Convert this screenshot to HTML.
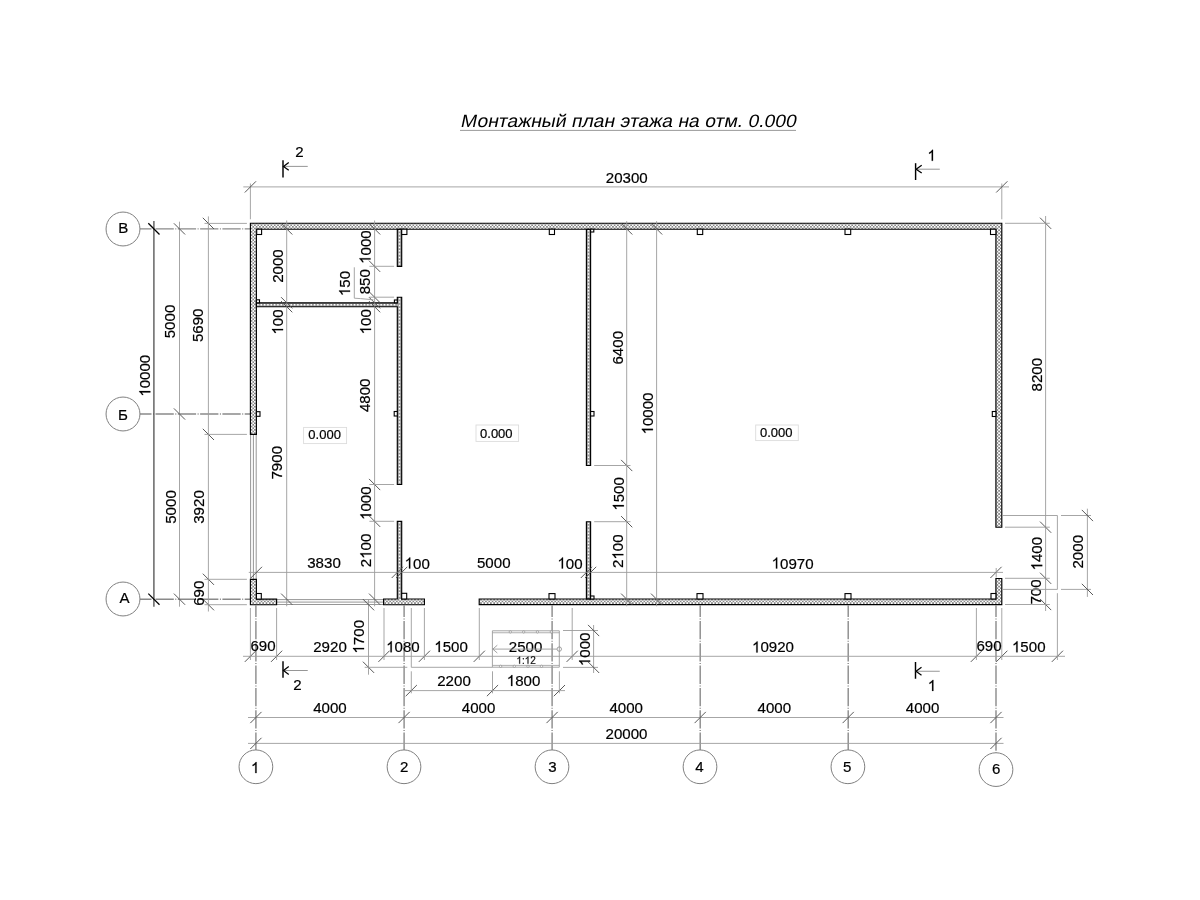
<!DOCTYPE html><html><head><meta charset="utf-8"><style>html,body{margin:0;padding:0;background:#fff;overflow:hidden;width:1200px;height:900px;}svg{display:block;will-change:transform}</style></head><body>
<svg width="1200" height="900" viewBox="0 0 1200 900" font-family='"Liberation Sans", sans-serif'>
<defs><pattern id="hatch" patternUnits="userSpaceOnUse" width="3.3" height="3.3"><rect width="3.3" height="3.3" fill="#fff"/><rect width="1.65" height="1.65" fill="#888"/><rect x="1.65" y="1.65" width="1.65" height="1.65" fill="#888"/></pattern></defs>
<rect width="1200" height="900" fill="#fff"/>
<g transform="translate(460.05,126.75) skewX(-12) scale(1.075,1)"><text font-size="18" fill="#000">Монтажный план этажа на отм. 0.000</text></g>
<line x1="460.00" y1="130.40" x2="796.00" y2="130.40" stroke="#9a9a9a" stroke-width="1.0" />
<line x1="255.90" y1="605.50" x2="255.90" y2="750.00" stroke="#8a8a8a" stroke-width="1.4" stroke-dasharray="18.3 1.5 1 1.5" stroke-dashoffset="6.8"/>
<line x1="404.10" y1="605.50" x2="404.10" y2="750.00" stroke="#8a8a8a" stroke-width="1.4" stroke-dasharray="18.3 1.5 1 1.5" stroke-dashoffset="6.8"/>
<line x1="552.10" y1="605.50" x2="552.10" y2="750.00" stroke="#8a8a8a" stroke-width="1.4" stroke-dasharray="18.3 1.5 1 1.5" stroke-dashoffset="6.8"/>
<line x1="700.20" y1="605.50" x2="700.20" y2="750.00" stroke="#8a8a8a" stroke-width="1.4" stroke-dasharray="18.3 1.5 1 1.5" stroke-dashoffset="6.8"/>
<line x1="848.20" y1="605.50" x2="848.20" y2="750.00" stroke="#8a8a8a" stroke-width="1.4" stroke-dasharray="18.3 1.5 1 1.5" stroke-dashoffset="6.8"/>
<line x1="996.00" y1="605.50" x2="996.00" y2="752.70" stroke="#8a8a8a" stroke-width="1.4" stroke-dasharray="18.3 1.5 1 1.5" stroke-dashoffset="6.8"/>
<line x1="140.00" y1="228.90" x2="250.40" y2="228.90" stroke="#8a8a8a" stroke-width="1.4" stroke-dasharray="18.3 1.5 1 1.5" stroke-dashoffset="6.8"/>
<line x1="140.00" y1="414.00" x2="256.40" y2="414.00" stroke="#8a8a8a" stroke-width="1.4" stroke-dasharray="18.3 1.5 1 1.5" stroke-dashoffset="6.8"/>
<line x1="140.00" y1="599.20" x2="250.40" y2="599.20" stroke="#8a8a8a" stroke-width="1.4" stroke-dasharray="18.3 1.5 1 1.5" stroke-dashoffset="6.8"/>
<circle cx="255.9" cy="766.8" r="16.85" fill="none" stroke="#808080" stroke-width="1"/>
<g transform="translate(255.15,773.10) scale(0.98,1)"><text font-size="15.4" text-anchor="middle" fill="#000" stroke="#000" stroke-width="0.2" > </text><path d="M763 0H583V1147Q518 1085 412.5 1023T223 930V1104Q373 1175 485.5 1276T645 1472H763V0Z" transform="translate(-4.282,0) scale(0.007520,-0.007520)" fill="#000" stroke="#000" stroke-width="26.6"/></g>
<circle cx="404.0" cy="766.8" r="16.85" fill="none" stroke="#808080" stroke-width="1"/>
<g transform="translate(404.25,771.85) scale(0.98,1)"><text font-size="15.4" text-anchor="middle" fill="#000" stroke="#000" stroke-width="0.2" >2</text></g>
<circle cx="552.0" cy="766.8" r="16.85" fill="none" stroke="#808080" stroke-width="1"/>
<g transform="translate(552.50,772.35) scale(0.98,1)"><text font-size="15.4" text-anchor="middle" fill="#000" stroke="#000" stroke-width="0.2" >3</text></g>
<circle cx="700.0" cy="766.8" r="16.85" fill="none" stroke="#808080" stroke-width="1"/>
<g transform="translate(699.50,772.35) scale(0.98,1)"><text font-size="15.4" text-anchor="middle" fill="#000" stroke="#000" stroke-width="0.2" >4</text></g>
<circle cx="847.9" cy="766.8" r="16.85" fill="none" stroke="#808080" stroke-width="1"/>
<g transform="translate(847.15,772.10) scale(0.98,1)"><text font-size="15.4" text-anchor="middle" fill="#000" stroke="#000" stroke-width="0.2" >5</text></g>
<circle cx="996.0" cy="769.6" r="16.85" fill="none" stroke="#808080" stroke-width="1"/>
<g transform="translate(996.25,774.40) scale(0.98,1)"><text font-size="15.4" text-anchor="middle" fill="#000" stroke="#000" stroke-width="0.2" >6</text></g>
<circle cx="123" cy="229.0" r="16.95" fill="none" stroke="#808080" stroke-width="1"/>
<g transform="translate(123.25,233.30) scale(0.98,1)"><text font-size="15.4" text-anchor="middle" fill="#000" stroke="#000" stroke-width="0.2" >В</text></g>
<circle cx="123" cy="414.0" r="16.95" fill="none" stroke="#808080" stroke-width="1"/>
<g transform="translate(123.05,420.25) scale(0.98,1)"><text font-size="15.4" text-anchor="middle" fill="#000" stroke="#000" stroke-width="0.2" >Б</text></g>
<circle cx="123" cy="599.0" r="16.95" fill="none" stroke="#808080" stroke-width="1"/>
<g transform="translate(124.60,602.85) scale(0.98,1)"><text font-size="15.4" text-anchor="middle" fill="#000" stroke="#000" stroke-width="0.2" >А</text></g>
<line x1="250.60" y1="434.40" x2="250.60" y2="579.30" stroke="#8a8a8a" stroke-width="0.9" />
<line x1="253.40" y1="434.40" x2="253.40" y2="579.30" stroke="#8a8a8a" stroke-width="0.9" />
<line x1="256.20" y1="434.40" x2="256.20" y2="579.30" stroke="#8a8a8a" stroke-width="0.9" />
<line x1="276.60" y1="599.60" x2="383.60" y2="599.60" stroke="#8a8a8a" stroke-width="0.9" />
<line x1="276.60" y1="602.10" x2="383.60" y2="602.10" stroke="#8a8a8a" stroke-width="0.9" />
<line x1="276.60" y1="604.50" x2="383.60" y2="604.50" stroke="#8a8a8a" stroke-width="0.9" />
<rect x="250.40" y="223.20" width="751.40" height="6.00" fill="url(#hatch)"/>
<rect x="250.40" y="229.20" width="6.00" height="205.20" fill="url(#hatch)"/>
<rect x="995.90" y="229.20" width="5.90" height="298.00" fill="url(#hatch)"/>
<rect x="250.40" y="579.30" width="6.00" height="25.40" fill="url(#hatch)"/>
<rect x="256.40" y="599.10" width="20.20" height="5.60" fill="url(#hatch)"/>
<rect x="479.20" y="599.00" width="522.60" height="5.60" fill="url(#hatch)"/>
<rect x="995.90" y="578.50" width="5.90" height="20.50" fill="url(#hatch)"/>
<rect x="383.60" y="599.00" width="40.80" height="5.70" fill="url(#hatch)"/>
<rect x="397.30" y="229.20" width="4.40" height="37.10" fill="#9a9a9a"/>
<line x1="399.50" y1="230.00" x2="399.50" y2="265.50" stroke="#fff" stroke-width="1.35" stroke-dasharray="1.5 1.83"/>
<rect x="397.30" y="297.20" width="4.40" height="187.30" fill="#9a9a9a"/>
<line x1="399.50" y1="298.00" x2="399.50" y2="483.70" stroke="#fff" stroke-width="1.35" stroke-dasharray="1.5 1.83"/>
<rect x="256.40" y="302.80" width="140.90" height="3.90" fill="#9a9a9a"/>
<line x1="257.20" y1="304.75" x2="396.50" y2="304.75" stroke="#fff" stroke-width="1.35" stroke-dasharray="1.5 1.83"/>
<rect x="397.30" y="521.30" width="4.40" height="77.70" fill="#9a9a9a"/>
<line x1="399.50" y1="522.10" x2="399.50" y2="598.20" stroke="#fff" stroke-width="1.35" stroke-dasharray="1.5 1.83"/>
<rect x="586.40" y="229.20" width="4.20" height="236.30" fill="#9a9a9a"/>
<line x1="588.50" y1="230.00" x2="588.50" y2="464.70" stroke="#fff" stroke-width="1.35" stroke-dasharray="1.5 1.83"/>
<rect x="586.40" y="521.70" width="4.20" height="77.30" fill="#9a9a9a"/>
<line x1="588.50" y1="522.50" x2="588.50" y2="598.20" stroke="#fff" stroke-width="1.35" stroke-dasharray="1.5 1.83"/>
<path d="M250.40,223.20 L1001.80,223.20 L1001.80,527.20 L995.90,527.20 L995.90,229.20 L256.40,229.20 L256.40,434.40 L250.40,434.40 Z" fill="none" stroke="#000" stroke-width="1.15" stroke-linejoin="miter"/>
<path d="M250.40,579.30 L256.40,579.30 L256.40,599.10 L276.60,599.10 L276.60,604.70 L250.40,604.70 Z" fill="none" stroke="#000" stroke-width="1.15" stroke-linejoin="miter"/>
<path d="M479.20,599.00 L995.90,599.00 L995.90,578.50 L1001.80,578.50 L1001.80,604.60 L479.20,604.60 Z" fill="none" stroke="#000" stroke-width="1.15" stroke-linejoin="miter"/>
<path d="M383.60,599.00 L397.30,599.00 L397.30,521.30 L401.70,521.30 L401.70,599.00 L424.40,599.00 L424.40,604.70 L383.60,604.70 Z" fill="none" stroke="#000" stroke-width="1.15" stroke-linejoin="miter"/>
<path d="M397.30,229.20 L401.70,229.20 L401.70,266.30 L397.30,266.30 Z" fill="none" stroke="#000" stroke-width="1.15" stroke-linejoin="miter"/>
<path d="M397.30,297.20 L401.70,297.20 L401.70,484.50 L397.30,484.50 L397.30,306.70 L256.40,306.70 L256.40,302.80 L397.30,302.80 Z" fill="none" stroke="#000" stroke-width="1.15" stroke-linejoin="miter"/>
<path d="M586.40,229.20 L590.60,229.20 L590.60,465.50 L586.40,465.50 Z" fill="none" stroke="#000" stroke-width="1.15" stroke-linejoin="miter"/>
<path d="M586.40,521.70 L590.60,521.70 L590.60,599.00 L586.40,599.00 Z" fill="none" stroke="#000" stroke-width="1.15" stroke-linejoin="miter"/>
<rect x="256.70" y="229.20" width="4.90" height="5.30" fill="#fff" stroke="#000" stroke-width="1.1"/>
<rect x="401.70" y="229.20" width="5.20" height="5.30" fill="#fff" stroke="#000" stroke-width="1.1"/>
<rect x="549.30" y="229.20" width="5.20" height="5.30" fill="#fff" stroke="#000" stroke-width="1.1"/>
<rect x="590.60" y="229.20" width="3.20" height="2.80" fill="#fff" stroke="#000" stroke-width="1.1"/>
<rect x="697.30" y="229.20" width="5.40" height="5.30" fill="#fff" stroke="#000" stroke-width="1.1"/>
<rect x="845.00" y="229.20" width="5.70" height="5.30" fill="#fff" stroke="#000" stroke-width="1.1"/>
<rect x="990.50" y="229.20" width="5.40" height="5.30" fill="#fff" stroke="#000" stroke-width="1.1"/>
<rect x="256.40" y="411.70" width="3.60" height="4.60" fill="#fff" stroke="#000" stroke-width="1.1"/>
<rect x="394.20" y="411.50" width="3.10" height="4.50" fill="#fff" stroke="#000" stroke-width="1.1"/>
<rect x="590.60" y="411.50" width="3.40" height="4.50" fill="#fff" stroke="#000" stroke-width="1.1"/>
<rect x="992.30" y="411.50" width="3.60" height="5.00" fill="#fff" stroke="#000" stroke-width="1.1"/>
<rect x="394.40" y="300.00" width="2.90" height="2.80" fill="#fff" stroke="#000" stroke-width="1.1"/>
<rect x="256.40" y="299.80" width="3.10" height="3.00" fill="#fff" stroke="#000" stroke-width="1.1"/>
<rect x="256.40" y="593.50" width="4.90" height="5.60" fill="#fff" stroke="#000" stroke-width="1.1"/>
<rect x="401.70" y="593.30" width="5.00" height="5.70" fill="#fff" stroke="#000" stroke-width="1.1"/>
<rect x="549.00" y="593.60" width="6.00" height="5.40" fill="#fff" stroke="#000" stroke-width="1.1"/>
<rect x="590.60" y="596.00" width="3.40" height="3.00" fill="#fff" stroke="#000" stroke-width="1.1"/>
<rect x="697.00" y="593.60" width="6.00" height="5.40" fill="#fff" stroke="#000" stroke-width="1.1"/>
<rect x="845.00" y="593.60" width="6.00" height="5.40" fill="#fff" stroke="#000" stroke-width="1.1"/>
<rect x="991.00" y="593.50" width="4.90" height="5.50" fill="#fff" stroke="#000" stroke-width="1.1"/>
<line x1="243.30" y1="186.90" x2="1009.00" y2="186.90" stroke="#9c9c9c" stroke-width="0.9" />
<line x1="250.40" y1="183.50" x2="250.40" y2="219.30" stroke="#9c9c9c" stroke-width="0.9" />
<line x1="1001.80" y1="183.50" x2="1001.80" y2="219.30" stroke="#9c9c9c" stroke-width="0.9" />
<line x1="244.80" y1="192.50" x2="256.00" y2="181.30" stroke="#505050" stroke-width="0.95" />
<line x1="996.20" y1="192.50" x2="1007.40" y2="181.30" stroke="#505050" stroke-width="0.95" />
<g transform="translate(626.75,182.55) scale(0.98,1)"><text font-size="15.4" text-anchor="middle" fill="#000" stroke="#000" stroke-width="0.2" >20300</text></g>
<line x1="153.90" y1="221.10" x2="153.90" y2="606.70" stroke="#5a5a5a" stroke-width="1.4" />
<line x1="148.30" y1="223.30" x2="159.50" y2="234.50" stroke="#000" stroke-width="1.25" />
<line x1="148.30" y1="593.60" x2="159.50" y2="604.80" stroke="#000" stroke-width="1.25" />
<g transform="translate(150.35,375.70) rotate(-90) scale(0.98,1)"><text font-size="15.4" text-anchor="middle" fill="#000" stroke="#000" stroke-width="0.2" > 0000</text><path d="M763 0H583V1147Q518 1085 412.5 1023T223 930V1104Q373 1175 485.5 1276T645 1472H763V0Z" transform="translate(-21.412,0) scale(0.007520,-0.007520)" fill="#000" stroke="#000" stroke-width="26.6"/></g>
<line x1="179.50" y1="221.70" x2="179.50" y2="606.70" stroke="#9c9c9c" stroke-width="0.9" />
<line x1="173.90" y1="223.30" x2="185.10" y2="234.50" stroke="#505050" stroke-width="0.95" />
<line x1="173.90" y1="408.40" x2="185.10" y2="419.60" stroke="#505050" stroke-width="0.95" />
<line x1="173.90" y1="593.60" x2="185.10" y2="604.80" stroke="#505050" stroke-width="0.95" />
<g transform="translate(175.20,321.50) rotate(-90) scale(0.98,1)"><text font-size="15.4" text-anchor="middle" fill="#000" stroke="#000" stroke-width="0.2" >5000</text></g>
<g transform="translate(175.95,507.00) rotate(-90) scale(0.98,1)"><text font-size="15.4" text-anchor="middle" fill="#000" stroke="#000" stroke-width="0.2" >5000</text></g>
<line x1="208.40" y1="216.40" x2="208.40" y2="611.50" stroke="#9c9c9c" stroke-width="0.9" />
<line x1="202.80" y1="217.80" x2="214.00" y2="229.00" stroke="#505050" stroke-width="0.95" />
<line x1="202.80" y1="428.80" x2="214.00" y2="440.00" stroke="#505050" stroke-width="0.95" />
<line x1="202.80" y1="573.70" x2="214.00" y2="584.90" stroke="#505050" stroke-width="0.95" />
<line x1="202.80" y1="599.10" x2="214.00" y2="610.30" stroke="#505050" stroke-width="0.95" />
<line x1="204.50" y1="223.40" x2="246.90" y2="223.40" stroke="#9c9c9c" stroke-width="0.9" />
<line x1="204.50" y1="434.40" x2="246.90" y2="434.40" stroke="#9c9c9c" stroke-width="0.9" />
<line x1="204.50" y1="579.30" x2="246.90" y2="579.30" stroke="#9c9c9c" stroke-width="0.9" />
<line x1="204.50" y1="604.70" x2="246.90" y2="604.70" stroke="#9c9c9c" stroke-width="0.9" />
<g transform="translate(203.25,325.30) rotate(-90) scale(0.98,1)"><text font-size="15.4" text-anchor="middle" fill="#000" stroke="#000" stroke-width="0.2" >5690</text></g>
<g transform="translate(204.00,507.00) rotate(-90) scale(0.98,1)"><text font-size="15.4" text-anchor="middle" fill="#000" stroke="#000" stroke-width="0.2" >3920</text></g>
<g transform="translate(203.75,593.30) rotate(-90) scale(0.98,1)"><text font-size="15.4" text-anchor="middle" fill="#000" stroke="#000" stroke-width="0.2" >690</text></g>
<line x1="286.70" y1="220.50" x2="286.70" y2="606.30" stroke="#9c9c9c" stroke-width="0.9" />
<line x1="281.10" y1="223.30" x2="292.30" y2="234.50" stroke="#505050" stroke-width="0.95" />
<line x1="281.10" y1="297.20" x2="292.30" y2="308.40" stroke="#505050" stroke-width="0.95" />
<line x1="281.10" y1="301.10" x2="292.30" y2="312.30" stroke="#505050" stroke-width="0.95" />
<line x1="281.10" y1="593.60" x2="292.30" y2="604.80" stroke="#505050" stroke-width="0.95" />
<g transform="translate(282.80,266.05) rotate(-90) scale(0.98,1)"><text font-size="15.4" text-anchor="middle" fill="#000" stroke="#000" stroke-width="0.2" >2000</text></g>
<g transform="translate(283.05,321.95) rotate(-90) scale(0.98,1)"><text font-size="15.4" text-anchor="middle" fill="#000" stroke="#000" stroke-width="0.2" > 00</text><path d="M763 0H583V1147Q518 1085 412.5 1023T223 930V1104Q373 1175 485.5 1276T645 1472H763V0Z" transform="translate(-12.847,0) scale(0.007520,-0.007520)" fill="#000" stroke="#000" stroke-width="26.6"/></g>
<g transform="translate(282.30,462.75) rotate(-90) scale(0.98,1)"><text font-size="15.4" text-anchor="middle" fill="#000" stroke="#000" stroke-width="0.2" >7900</text></g>
<line x1="374.60" y1="220.50" x2="374.60" y2="606.30" stroke="#9c9c9c" stroke-width="0.9" />
<line x1="369.00" y1="223.30" x2="380.20" y2="234.50" stroke="#505050" stroke-width="0.95" />
<line x1="369.00" y1="260.70" x2="380.20" y2="271.90" stroke="#505050" stroke-width="0.95" />
<line x1="369.00" y1="291.60" x2="380.20" y2="302.80" stroke="#505050" stroke-width="0.95" />
<line x1="369.00" y1="297.20" x2="380.20" y2="308.40" stroke="#505050" stroke-width="0.95" />
<line x1="369.00" y1="301.10" x2="380.20" y2="312.30" stroke="#505050" stroke-width="0.95" />
<line x1="369.00" y1="478.90" x2="380.20" y2="490.10" stroke="#505050" stroke-width="0.95" />
<line x1="369.00" y1="515.70" x2="380.20" y2="526.90" stroke="#505050" stroke-width="0.95" />
<line x1="369.00" y1="593.60" x2="380.20" y2="604.80" stroke="#505050" stroke-width="0.95" />
<line x1="369.40" y1="266.30" x2="394.10" y2="266.30" stroke="#9c9c9c" stroke-width="0.9" />
<line x1="369.40" y1="297.20" x2="394.10" y2="297.20" stroke="#9c9c9c" stroke-width="0.9" />
<line x1="369.40" y1="484.50" x2="394.10" y2="484.50" stroke="#9c9c9c" stroke-width="0.9" />
<line x1="369.40" y1="521.30" x2="394.10" y2="521.30" stroke="#9c9c9c" stroke-width="0.9" />
<g transform="translate(370.55,247.05) rotate(-90) scale(0.98,1)"><text font-size="15.4" text-anchor="middle" fill="#000" stroke="#000" stroke-width="0.2" > 000</text><path d="M763 0H583V1147Q518 1085 412.5 1023T223 930V1104Q373 1175 485.5 1276T645 1472H763V0Z" transform="translate(-17.129,0) scale(0.007520,-0.007520)" fill="#000" stroke="#000" stroke-width="26.6"/></g>
<g transform="translate(370.30,281.75) rotate(-90) scale(0.98,1)"><text font-size="15.4" text-anchor="middle" fill="#000" stroke="#000" stroke-width="0.2" >850</text></g>
<g transform="translate(371.05,321.75) rotate(-90) scale(0.98,1)"><text font-size="15.4" text-anchor="middle" fill="#000" stroke="#000" stroke-width="0.2" > 00</text><path d="M763 0H583V1147Q518 1085 412.5 1023T223 930V1104Q373 1175 485.5 1276T645 1472H763V0Z" transform="translate(-12.847,0) scale(0.007520,-0.007520)" fill="#000" stroke="#000" stroke-width="26.6"/></g>
<g transform="translate(369.80,395.35) rotate(-90) scale(0.98,1)"><text font-size="15.4" text-anchor="middle" fill="#000" stroke="#000" stroke-width="0.2" >4800</text></g>
<g transform="translate(371.30,503.20) rotate(-90) scale(0.98,1)"><text font-size="15.4" text-anchor="middle" fill="#000" stroke="#000" stroke-width="0.2" > 000</text><path d="M763 0H583V1147Q518 1085 412.5 1023T223 930V1104Q373 1175 485.5 1276T645 1472H763V0Z" transform="translate(-17.129,0) scale(0.007520,-0.007520)" fill="#000" stroke="#000" stroke-width="26.6"/></g>
<g transform="translate(371.30,550.50) rotate(-90) scale(0.98,1)"><text font-size="15.4" text-anchor="middle" fill="#000" stroke="#000" stroke-width="0.2" >2 00</text><path d="M763 0H583V1147Q518 1085 412.5 1023T223 930V1104Q373 1175 485.5 1276T645 1472H763V0Z" transform="translate(-8.565,0) scale(0.007520,-0.007520)" fill="#000" stroke="#000" stroke-width="26.6"/></g>
<g transform="translate(350.05,283.50) rotate(-90) scale(0.98,1)"><text font-size="15.4" text-anchor="middle" fill="#000" stroke="#000" stroke-width="0.2" > 50</text><path d="M763 0H583V1147Q518 1085 412.5 1023T223 930V1104Q373 1175 485.5 1276T645 1472H763V0Z" transform="translate(-12.847,0) scale(0.007520,-0.007520)" fill="#000" stroke="#000" stroke-width="26.6"/></g>
<path d="M354.30,267.30 L354.30,298.20 L360.50,298.60 L373.50,299.80" stroke="#9c9c9c" stroke-width="0.9" fill="none"/>
<line x1="368.50" y1="599.50" x2="368.50" y2="674.70" stroke="#9c9c9c" stroke-width="0.9" />
<line x1="362.90" y1="599.10" x2="374.10" y2="610.30" stroke="#505050" stroke-width="0.95" />
<line x1="362.90" y1="661.70" x2="374.10" y2="672.90" stroke="#505050" stroke-width="0.95" />
<line x1="364.70" y1="667.30" x2="407.30" y2="667.30" stroke="#9c9c9c" stroke-width="0.9" />
<line x1="411.30" y1="667.30" x2="492.50" y2="667.30" stroke="#9c9c9c" stroke-width="0.9" />
<g transform="translate(364.05,636.75) rotate(-90) scale(0.98,1)"><text font-size="15.4" text-anchor="middle" fill="#000" stroke="#000" stroke-width="0.2" > 700</text><path d="M763 0H583V1147Q518 1085 412.5 1023T223 930V1104Q373 1175 485.5 1276T645 1472H763V0Z" transform="translate(-17.129,0) scale(0.007520,-0.007520)" fill="#000" stroke="#000" stroke-width="26.6"/></g>
<line x1="626.70" y1="221.20" x2="626.70" y2="606.30" stroke="#9c9c9c" stroke-width="0.9" />
<line x1="621.10" y1="223.30" x2="632.30" y2="234.50" stroke="#505050" stroke-width="0.95" />
<line x1="621.10" y1="459.90" x2="632.30" y2="471.10" stroke="#505050" stroke-width="0.95" />
<line x1="621.10" y1="516.10" x2="632.30" y2="527.30" stroke="#505050" stroke-width="0.95" />
<line x1="621.10" y1="593.60" x2="632.30" y2="604.80" stroke="#505050" stroke-width="0.95" />
<line x1="594.20" y1="465.50" x2="630.50" y2="465.50" stroke="#9c9c9c" stroke-width="0.9" />
<line x1="594.20" y1="521.70" x2="630.50" y2="521.70" stroke="#9c9c9c" stroke-width="0.9" />
<g transform="translate(622.60,347.75) rotate(-90) scale(0.98,1)"><text font-size="15.4" text-anchor="middle" fill="#000" stroke="#000" stroke-width="0.2" >6400</text></g>
<g transform="translate(623.85,493.90) rotate(-90) scale(0.98,1)"><text font-size="15.4" text-anchor="middle" fill="#000" stroke="#000" stroke-width="0.2" > 500</text><path d="M763 0H583V1147Q518 1085 412.5 1023T223 930V1104Q373 1175 485.5 1276T645 1472H763V0Z" transform="translate(-17.129,0) scale(0.007520,-0.007520)" fill="#000" stroke="#000" stroke-width="26.6"/></g>
<g transform="translate(623.35,551.20) rotate(-90) scale(0.98,1)"><text font-size="15.4" text-anchor="middle" fill="#000" stroke="#000" stroke-width="0.2" >2 00</text><path d="M763 0H583V1147Q518 1085 412.5 1023T223 930V1104Q373 1175 485.5 1276T645 1472H763V0Z" transform="translate(-8.565,0) scale(0.007520,-0.007520)" fill="#000" stroke="#000" stroke-width="26.6"/></g>
<line x1="656.60" y1="221.20" x2="656.60" y2="606.30" stroke="#9c9c9c" stroke-width="0.9" />
<line x1="651.00" y1="223.30" x2="662.20" y2="234.50" stroke="#505050" stroke-width="0.95" />
<line x1="651.00" y1="593.60" x2="662.20" y2="604.80" stroke="#505050" stroke-width="0.95" />
<g transform="translate(652.90,413.50) rotate(-90) scale(0.98,1)"><text font-size="15.4" text-anchor="middle" fill="#000" stroke="#000" stroke-width="0.2" > 0000</text><path d="M763 0H583V1147Q518 1085 412.5 1023T223 930V1104Q373 1175 485.5 1276T645 1472H763V0Z" transform="translate(-21.412,0) scale(0.007520,-0.007520)" fill="#000" stroke="#000" stroke-width="26.6"/></g>
<line x1="248.80" y1="572.40" x2="1003.00" y2="572.40" stroke="#9c9c9c" stroke-width="0.9" />
<line x1="250.80" y1="578.00" x2="262.00" y2="566.80" stroke="#505050" stroke-width="0.95" />
<line x1="391.70" y1="578.00" x2="402.90" y2="566.80" stroke="#505050" stroke-width="0.95" />
<line x1="396.10" y1="578.00" x2="407.30" y2="566.80" stroke="#505050" stroke-width="0.95" />
<line x1="580.80" y1="578.00" x2="592.00" y2="566.80" stroke="#505050" stroke-width="0.95" />
<line x1="585.00" y1="578.00" x2="596.20" y2="566.80" stroke="#505050" stroke-width="0.95" />
<line x1="990.40" y1="578.00" x2="1001.60" y2="566.80" stroke="#505050" stroke-width="0.95" />
<line x1="996.20" y1="568.00" x2="996.20" y2="577.50" stroke="#9c9c9c" stroke-width="0.9" />
<g transform="translate(324.00,568.25) scale(0.98,1)"><text font-size="15.4" text-anchor="middle" fill="#000" stroke="#000" stroke-width="0.2" >3830</text></g>
<g transform="translate(417.25,568.50) scale(0.98,1)"><text font-size="15.4" text-anchor="middle" fill="#000" stroke="#000" stroke-width="0.2" > 00</text><path d="M763 0H583V1147Q518 1085 412.5 1023T223 930V1104Q373 1175 485.5 1276T645 1472H763V0Z" transform="translate(-12.847,0) scale(0.007520,-0.007520)" fill="#000" stroke="#000" stroke-width="26.6"/></g>
<g transform="translate(493.75,567.50) scale(0.98,1)"><text font-size="15.4" text-anchor="middle" fill="#000" stroke="#000" stroke-width="0.2" >5000</text></g>
<g transform="translate(570.00,568.50) scale(0.98,1)"><text font-size="15.4" text-anchor="middle" fill="#000" stroke="#000" stroke-width="0.2" > 00</text><path d="M763 0H583V1147Q518 1085 412.5 1023T223 930V1104Q373 1175 485.5 1276T645 1472H763V0Z" transform="translate(-12.847,0) scale(0.007520,-0.007520)" fill="#000" stroke="#000" stroke-width="26.6"/></g>
<g transform="translate(792.60,568.50) scale(0.98,1)"><text font-size="15.4" text-anchor="middle" fill="#000" stroke="#000" stroke-width="0.2" > 0970</text><path d="M763 0H583V1147Q518 1085 412.5 1023T223 930V1104Q373 1175 485.5 1276T645 1472H763V0Z" transform="translate(-21.412,0) scale(0.007520,-0.007520)" fill="#000" stroke="#000" stroke-width="26.6"/></g>
<line x1="1045.60" y1="216.00" x2="1045.60" y2="611.00" stroke="#9c9c9c" stroke-width="0.9" />
<line x1="1040.00" y1="217.70" x2="1051.20" y2="228.90" stroke="#505050" stroke-width="0.95" />
<line x1="1040.00" y1="521.60" x2="1051.20" y2="532.80" stroke="#505050" stroke-width="0.95" />
<line x1="1040.00" y1="572.70" x2="1051.20" y2="583.90" stroke="#505050" stroke-width="0.95" />
<line x1="1040.00" y1="598.90" x2="1051.20" y2="610.10" stroke="#505050" stroke-width="0.95" />
<line x1="1005.00" y1="223.30" x2="1049.80" y2="223.30" stroke="#9c9c9c" stroke-width="0.9" />
<line x1="1005.00" y1="527.20" x2="1049.80" y2="527.20" stroke="#9c9c9c" stroke-width="0.9" />
<line x1="1005.00" y1="578.30" x2="1049.80" y2="578.30" stroke="#9c9c9c" stroke-width="0.9" />
<line x1="1005.00" y1="604.50" x2="1049.80" y2="604.50" stroke="#9c9c9c" stroke-width="0.9" />
<g transform="translate(1041.75,374.70) rotate(-90) scale(0.98,1)"><text font-size="15.4" text-anchor="middle" fill="#000" stroke="#000" stroke-width="0.2" >8200</text></g>
<g transform="translate(1042.25,553.70) rotate(-90) scale(0.98,1)"><text font-size="15.4" text-anchor="middle" fill="#000" stroke="#000" stroke-width="0.2" > 400</text><path d="M763 0H583V1147Q518 1085 412.5 1023T223 930V1104Q373 1175 485.5 1276T645 1472H763V0Z" transform="translate(-17.129,0) scale(0.007520,-0.007520)" fill="#000" stroke="#000" stroke-width="26.6"/></g>
<g transform="translate(1041.25,592.00) rotate(-90) scale(0.98,1)"><text font-size="15.4" text-anchor="middle" fill="#000" stroke="#000" stroke-width="0.2" >700</text></g>
<path d="M1002.00,515.50 L1057.40,515.50 L1057.40,589.40 L1002.00,589.40" stroke="#9c9c9c" stroke-width="0.9" fill="none"/>
<line x1="1061.00" y1="515.50" x2="1091.00" y2="515.50" stroke="#9c9c9c" stroke-width="0.9" />
<line x1="1061.00" y1="589.40" x2="1091.00" y2="589.40" stroke="#9c9c9c" stroke-width="0.9" />
<line x1="1087.40" y1="508.70" x2="1087.40" y2="596.90" stroke="#9c9c9c" stroke-width="0.9" />
<line x1="1081.80" y1="509.90" x2="1093.00" y2="521.10" stroke="#505050" stroke-width="0.95" />
<line x1="1081.80" y1="583.80" x2="1093.00" y2="595.00" stroke="#505050" stroke-width="0.95" />
<g transform="translate(1082.50,551.75) rotate(-90) scale(0.98,1)"><text font-size="15.4" text-anchor="middle" fill="#000" stroke="#000" stroke-width="0.2" >2000</text></g>
<line x1="243.00" y1="656.30" x2="1065.00" y2="656.30" stroke="#9c9c9c" stroke-width="0.9" />
<line x1="244.80" y1="661.90" x2="256.00" y2="650.70" stroke="#505050" stroke-width="0.95" />
<line x1="271.00" y1="661.90" x2="282.20" y2="650.70" stroke="#505050" stroke-width="0.95" />
<line x1="378.40" y1="661.90" x2="389.60" y2="650.70" stroke="#505050" stroke-width="0.95" />
<line x1="418.80" y1="661.90" x2="430.00" y2="650.70" stroke="#505050" stroke-width="0.95" />
<line x1="473.70" y1="661.90" x2="484.90" y2="650.70" stroke="#505050" stroke-width="0.95" />
<line x1="566.60" y1="661.90" x2="577.80" y2="650.70" stroke="#505050" stroke-width="0.95" />
<line x1="970.80" y1="661.90" x2="982.00" y2="650.70" stroke="#505050" stroke-width="0.95" />
<line x1="996.20" y1="661.90" x2="1007.40" y2="650.70" stroke="#505050" stroke-width="0.95" />
<line x1="1051.80" y1="661.90" x2="1063.00" y2="650.70" stroke="#505050" stroke-width="0.95" />
<line x1="250.40" y1="608.00" x2="250.40" y2="660.00" stroke="#9c9c9c" stroke-width="0.9" />
<line x1="276.60" y1="608.00" x2="276.60" y2="660.00" stroke="#9c9c9c" stroke-width="0.9" />
<line x1="384.00" y1="608.00" x2="384.00" y2="660.00" stroke="#9c9c9c" stroke-width="0.9" />
<line x1="424.40" y1="608.00" x2="424.40" y2="660.00" stroke="#9c9c9c" stroke-width="0.9" />
<line x1="479.30" y1="608.00" x2="479.30" y2="660.00" stroke="#9c9c9c" stroke-width="0.9" />
<line x1="572.20" y1="608.00" x2="572.20" y2="660.00" stroke="#9c9c9c" stroke-width="0.9" />
<line x1="976.40" y1="608.00" x2="976.40" y2="660.00" stroke="#9c9c9c" stroke-width="0.9" />
<line x1="1001.80" y1="608.00" x2="1001.80" y2="660.00" stroke="#9c9c9c" stroke-width="0.9" />
<line x1="1057.40" y1="593.20" x2="1057.40" y2="660.00" stroke="#9c9c9c" stroke-width="0.9" />
<g transform="translate(263.05,651.10) scale(0.98,1)"><text font-size="15.4" text-anchor="middle" fill="#000" stroke="#000" stroke-width="0.2" >690</text></g>
<g transform="translate(330.00,651.60) scale(0.98,1)"><text font-size="15.4" text-anchor="middle" fill="#000" stroke="#000" stroke-width="0.2" >2920</text></g>
<g transform="translate(402.95,652.35) scale(0.98,1)"><text font-size="15.4" text-anchor="middle" fill="#000" stroke="#000" stroke-width="0.2" > 080</text><path d="M763 0H583V1147Q518 1085 412.5 1023T223 930V1104Q373 1175 485.5 1276T645 1472H763V0Z" transform="translate(-17.129,0) scale(0.007520,-0.007520)" fill="#000" stroke="#000" stroke-width="26.6"/></g>
<g transform="translate(451.05,652.10) scale(0.98,1)"><text font-size="15.4" text-anchor="middle" fill="#000" stroke="#000" stroke-width="0.2" > 500</text><path d="M763 0H583V1147Q518 1085 412.5 1023T223 930V1104Q373 1175 485.5 1276T645 1472H763V0Z" transform="translate(-17.129,0) scale(0.007520,-0.007520)" fill="#000" stroke="#000" stroke-width="26.6"/></g>
<g transform="translate(525.60,652.35) scale(0.98,1)"><text font-size="15.4" text-anchor="middle" fill="#000" stroke="#000" stroke-width="0.2" >2500</text></g>
<g transform="translate(773.00,652.45) scale(0.98,1)"><text font-size="15.4" text-anchor="middle" fill="#000" stroke="#000" stroke-width="0.2" > 0920</text><path d="M763 0H583V1147Q518 1085 412.5 1023T223 930V1104Q373 1175 485.5 1276T645 1472H763V0Z" transform="translate(-21.412,0) scale(0.007520,-0.007520)" fill="#000" stroke="#000" stroke-width="26.6"/></g>
<g transform="translate(989.00,651.35) scale(0.98,1)"><text font-size="15.4" text-anchor="middle" fill="#000" stroke="#000" stroke-width="0.2" >690</text></g>
<g transform="translate(1028.75,652.35) scale(0.98,1)"><text font-size="15.4" text-anchor="middle" fill="#000" stroke="#000" stroke-width="0.2" > 500</text><path d="M763 0H583V1147Q518 1085 412.5 1023T223 930V1104Q373 1175 485.5 1276T645 1472H763V0Z" transform="translate(-17.129,0) scale(0.007520,-0.007520)" fill="#000" stroke="#000" stroke-width="26.6"/></g>
<line x1="492.40" y1="630.80" x2="559.30" y2="630.80" stroke="#9a9a9a" stroke-width="0.9" />
<line x1="492.40" y1="632.75" x2="559.30" y2="632.75" stroke="#9a9a9a" stroke-width="0.8" />
<line x1="492.40" y1="665.40" x2="559.30" y2="665.40" stroke="#9a9a9a" stroke-width="0.8" />
<line x1="492.40" y1="667.20" x2="559.30" y2="667.20" stroke="#9a9a9a" stroke-width="0.9" />
<line x1="492.40" y1="630.80" x2="492.40" y2="667.20" stroke="#9a9a9a" stroke-width="0.9" />
<line x1="559.30" y1="630.80" x2="559.30" y2="667.20" stroke="#9a9a9a" stroke-width="0.9" />
<circle cx="510.3" cy="631.9" r="1.15" fill="#fff" stroke="#8a8a8a" stroke-width="0.7"/>
<circle cx="523.7" cy="631.9" r="1.15" fill="#fff" stroke="#8a8a8a" stroke-width="0.7"/>
<circle cx="537.4" cy="631.9" r="1.15" fill="#fff" stroke="#8a8a8a" stroke-width="0.7"/>
<circle cx="551.3" cy="631.9" r="1.15" fill="#fff" stroke="#8a8a8a" stroke-width="0.7"/>
<circle cx="500.6" cy="666.3" r="1.15" fill="#fff" stroke="#8a8a8a" stroke-width="0.7"/>
<circle cx="514.3" cy="666.3" r="1.15" fill="#fff" stroke="#8a8a8a" stroke-width="0.7"/>
<circle cx="528.0" cy="666.3" r="1.15" fill="#fff" stroke="#8a8a8a" stroke-width="0.7"/>
<circle cx="541.5" cy="666.3" r="1.15" fill="#fff" stroke="#8a8a8a" stroke-width="0.7"/>
<line x1="492.50" y1="649.10" x2="557.00" y2="649.10" stroke="#9c9c9c" stroke-width="0.9" />
<path d="M497.30,645.20 L492.80,649.10 L497.30,653.00" stroke="#8a8a8a" stroke-width="0.8" fill="none"/>
<circle cx="559.3" cy="649.1" r="2.2" fill="none" stroke="#8a8a8a" stroke-width="0.8"/>
<g transform="translate(526.10,663.70) scale(1.0,1)"><text font-size="10" text-anchor="middle" fill="#111" stroke="#111" stroke-width="0.2" > : 2</text><path d="M763 0H583V1147Q518 1085 412.5 1023T223 930V1104Q373 1175 485.5 1276T645 1472H763V0Z" transform="translate(-9.731,0) scale(0.004883,-0.004883)" fill="#111" stroke="#111" stroke-width="41.0"/><path d="M763 0H583V1147Q518 1085 412.5 1023T223 930V1104Q373 1175 485.5 1276T645 1472H763V0Z" transform="translate(-1.392,0) scale(0.004883,-0.004883)" fill="#111" stroke="#111" stroke-width="41.0"/></g>
<line x1="563.00" y1="630.50" x2="598.00" y2="630.50" stroke="#9c9c9c" stroke-width="0.9" />
<line x1="563.00" y1="667.40" x2="598.00" y2="667.40" stroke="#9c9c9c" stroke-width="0.9" />
<line x1="593.60" y1="625.00" x2="593.60" y2="673.00" stroke="#9c9c9c" stroke-width="0.9" />
<line x1="588.00" y1="624.90" x2="599.20" y2="636.10" stroke="#505050" stroke-width="0.95" />
<line x1="588.00" y1="661.80" x2="599.20" y2="673.00" stroke="#505050" stroke-width="0.95" />
<g transform="translate(590.15,649.35) rotate(-90) scale(0.98,1)"><text font-size="15.4" text-anchor="middle" fill="#000" stroke="#000" stroke-width="0.2" > 000</text><path d="M763 0H583V1147Q518 1085 412.5 1023T223 930V1104Q373 1175 485.5 1276T645 1472H763V0Z" transform="translate(-17.129,0) scale(0.007520,-0.007520)" fill="#000" stroke="#000" stroke-width="26.6"/></g>
<line x1="404.50" y1="690.60" x2="565.00" y2="690.60" stroke="#9c9c9c" stroke-width="0.9" />
<line x1="405.70" y1="696.20" x2="416.90" y2="685.00" stroke="#505050" stroke-width="0.95" />
<line x1="486.90" y1="696.20" x2="498.10" y2="685.00" stroke="#505050" stroke-width="0.95" />
<line x1="553.80" y1="696.20" x2="565.00" y2="685.00" stroke="#505050" stroke-width="0.95" />
<line x1="411.30" y1="608.00" x2="411.30" y2="667.30" stroke="#9c9c9c" stroke-width="0.9" />
<line x1="411.30" y1="671.30" x2="411.30" y2="693.30" stroke="#9c9c9c" stroke-width="0.9" />
<line x1="492.50" y1="671.30" x2="492.50" y2="693.30" stroke="#9c9c9c" stroke-width="0.9" />
<line x1="559.40" y1="671.30" x2="559.40" y2="693.30" stroke="#9c9c9c" stroke-width="0.9" />
<g transform="translate(454.00,686.30) scale(0.98,1)"><text font-size="15.4" text-anchor="middle" fill="#000" stroke="#000" stroke-width="0.2" >2200</text></g>
<g transform="translate(523.55,686.05) scale(0.98,1)"><text font-size="15.4" text-anchor="middle" fill="#000" stroke="#000" stroke-width="0.2" > 800</text><path d="M763 0H583V1147Q518 1085 412.5 1023T223 930V1104Q373 1175 485.5 1276T645 1472H763V0Z" transform="translate(-17.129,0) scale(0.007520,-0.007520)" fill="#000" stroke="#000" stroke-width="26.6"/></g>
<line x1="248.00" y1="717.50" x2="1003.50" y2="717.50" stroke="#9c9c9c" stroke-width="0.9" />
<line x1="250.30" y1="723.10" x2="261.50" y2="711.90" stroke="#505050" stroke-width="0.95" />
<line x1="398.50" y1="723.10" x2="409.70" y2="711.90" stroke="#505050" stroke-width="0.95" />
<line x1="546.50" y1="723.10" x2="557.70" y2="711.90" stroke="#505050" stroke-width="0.95" />
<line x1="694.60" y1="723.10" x2="705.80" y2="711.90" stroke="#505050" stroke-width="0.95" />
<line x1="842.60" y1="723.10" x2="853.80" y2="711.90" stroke="#505050" stroke-width="0.95" />
<line x1="990.40" y1="723.10" x2="1001.60" y2="711.90" stroke="#505050" stroke-width="0.95" />
<g transform="translate(329.90,712.50) scale(0.98,1)"><text font-size="15.4" text-anchor="middle" fill="#000" stroke="#000" stroke-width="0.2" >4000</text></g>
<g transform="translate(478.60,712.50) scale(0.98,1)"><text font-size="15.4" text-anchor="middle" fill="#000" stroke="#000" stroke-width="0.2" >4000</text></g>
<g transform="translate(626.15,713.00) scale(0.98,1)"><text font-size="15.4" text-anchor="middle" fill="#000" stroke="#000" stroke-width="0.2" >4000</text></g>
<g transform="translate(774.30,712.50) scale(0.98,1)"><text font-size="15.4" text-anchor="middle" fill="#000" stroke="#000" stroke-width="0.2" >4000</text></g>
<g transform="translate(922.60,712.50) scale(0.98,1)"><text font-size="15.4" text-anchor="middle" fill="#000" stroke="#000" stroke-width="0.2" >4000</text></g>
<line x1="248.00" y1="743.40" x2="1003.50" y2="743.40" stroke="#9c9c9c" stroke-width="0.9" />
<line x1="250.30" y1="749.00" x2="261.50" y2="737.80" stroke="#505050" stroke-width="0.95" />
<line x1="990.40" y1="749.00" x2="1001.60" y2="737.80" stroke="#505050" stroke-width="0.95" />
<g transform="translate(626.50,738.50) scale(0.98,1)"><text font-size="15.4" text-anchor="middle" fill="#000" stroke="#000" stroke-width="0.2" >20000</text></g>
<line x1="283.00" y1="160.25" x2="283.00" y2="177.50" stroke="#000" stroke-width="1.45" />
<line x1="283.00" y1="166.40" x2="307.75" y2="166.40" stroke="#8a8a8a" stroke-width="0.9" />
<path d="M288.75,162.40 L283.50,166.40 L288.75,170.30" stroke="#000" stroke-width="1.25" fill="none"/>
<g transform="translate(299.46,157.04) scale(0.98,1)"><text font-size="15.4" text-anchor="middle" fill="#000" stroke="#000" stroke-width="0.2" >2</text></g>
<line x1="915.60" y1="163.20" x2="915.60" y2="180.00" stroke="#000" stroke-width="1.45" />
<line x1="915.60" y1="169.20" x2="939.80" y2="169.20" stroke="#8a8a8a" stroke-width="0.9" />
<path d="M921.70,165.20 L916.10,169.20 L921.70,173.10" stroke="#000" stroke-width="1.25" fill="none"/>
<g transform="translate(931.60,160.85) scale(0.98,1)"><text font-size="15.4" text-anchor="middle" fill="#000" stroke="#000" stroke-width="0.2" > </text><path d="M763 0H583V1147Q518 1085 412.5 1023T223 930V1104Q373 1175 485.5 1276T645 1472H763V0Z" transform="translate(-4.282,0) scale(0.007520,-0.007520)" fill="#000" stroke="#000" stroke-width="26.6"/></g>
<line x1="283.00" y1="661.25" x2="283.00" y2="677.75" stroke="#000" stroke-width="1.45" />
<line x1="283.00" y1="670.50" x2="307.75" y2="670.50" stroke="#8a8a8a" stroke-width="0.9" />
<path d="M288.75,666.50 L283.50,670.50 L288.75,674.40" stroke="#000" stroke-width="1.25" fill="none"/>
<g transform="translate(297.45,689.85) scale(0.98,1)"><text font-size="15.4" text-anchor="middle" fill="#000" stroke="#000" stroke-width="0.2" >2</text></g>
<line x1="915.50" y1="662.00" x2="915.50" y2="678.75" stroke="#000" stroke-width="1.45" />
<line x1="915.50" y1="671.25" x2="939.75" y2="671.25" stroke="#8a8a8a" stroke-width="0.9" />
<path d="M921.50,667.25 L916.00,671.25 L921.50,675.15" stroke="#000" stroke-width="1.25" fill="none"/>
<g transform="translate(931.96,690.96) scale(0.98,1)"><text font-size="15.4" text-anchor="middle" fill="#000" stroke="#000" stroke-width="0.2" > </text><path d="M763 0H583V1147Q518 1085 412.5 1023T223 930V1104Q373 1175 485.5 1276T645 1472H763V0Z" transform="translate(-4.282,0) scale(0.007520,-0.007520)" fill="#000" stroke="#000" stroke-width="26.6"/></g>
<rect x="303.6" y="427.4" width="43.0" height="16.2" fill="#fff" stroke="#dcdcdc" stroke-width="0.9"/>
<g transform="translate(324.60,439.00) scale(1.0,1)"><text font-size="13" text-anchor="middle" fill="#000" stroke="#000" stroke-width="0.2" >0.000</text></g>
<rect x="476.0" y="425.0" width="42.6" height="16.4" fill="#fff" stroke="#dcdcdc" stroke-width="0.9"/>
<g transform="translate(496.30,438.20) scale(1.0,1)"><text font-size="13" text-anchor="middle" fill="#000" stroke="#000" stroke-width="0.2" >0.000</text></g>
<rect x="755.7" y="425.0" width="42.6" height="15.6" fill="#fff" stroke="#dcdcdc" stroke-width="0.9"/>
<g transform="translate(776.25,437.30) scale(1.0,1)"><text font-size="13" text-anchor="middle" fill="#000" stroke="#000" stroke-width="0.2" >0.000</text></g>
</svg></body></html>
